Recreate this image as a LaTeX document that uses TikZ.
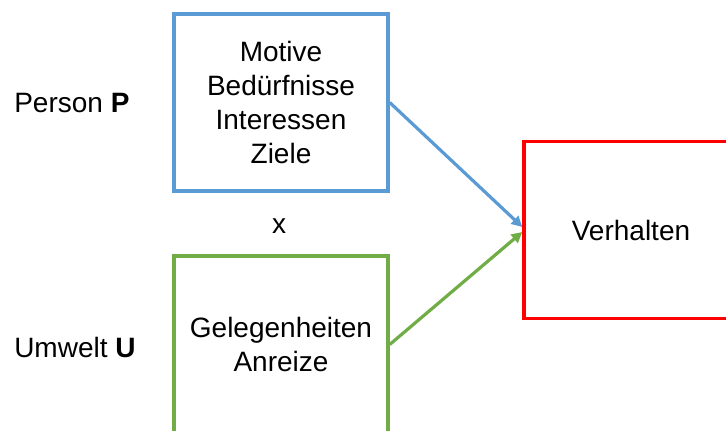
\documentclass[tikz,border=0pt]{standalone}
\usepackage{fontspec}
\setmainfont{Liberation Sans}
\usetikzlibrary{positioning,arrows.meta}
\definecolor{pblue}{RGB}{91,155,213}
\definecolor{ugreen}{RGB}{112,173,71}
\definecolor{vred}{RGB}{255,0,0}

\begin{document}
\begin{tikzpicture}[
  x=0.75pt, y=-0.75pt,
  box/.style={draw, line width=2.6pt, align=center, inner sep=0pt,
              font=\fontsize{21}{25.5}\selectfont,
              minimum width=160.5pt, minimum height=132.75pt},
  lbl/.style={inner sep=0pt, font=\fontsize{21}{25.5}\selectfont},
  arr/.style={-{Triangle[length=8pt,width=8pt]}, line width=2.4pt}]
\clip (0,0) rectangle (726,431);
\node[box, draw=pblue] (motive) at (281,102.5) {Motive\\Bedürfnisse\\Interessen\\Ziele};
\node[box, draw=ugreen] (chance) at (281,344.5) {Gelegenheiten\\Anreize};
\node[box, draw=vred] (verhalten) at (631,230) {Verhalten};
\node[lbl, anchor=west] (person) at (14,103) {Person \textbf{P}};
\node[lbl, anchor=west] (umwelt) at (14,347) {Umwelt \textbf{U}};
\node[lbl] (times) at (279,226) {x};
\draw[arr, pblue] (motive.east) -- ([yshift=2.25pt]verhalten.west);
\draw[arr, ugreen] (chance.east) -- ([yshift=-1.5pt]verhalten.west);
\end{tikzpicture}
\end{document}
